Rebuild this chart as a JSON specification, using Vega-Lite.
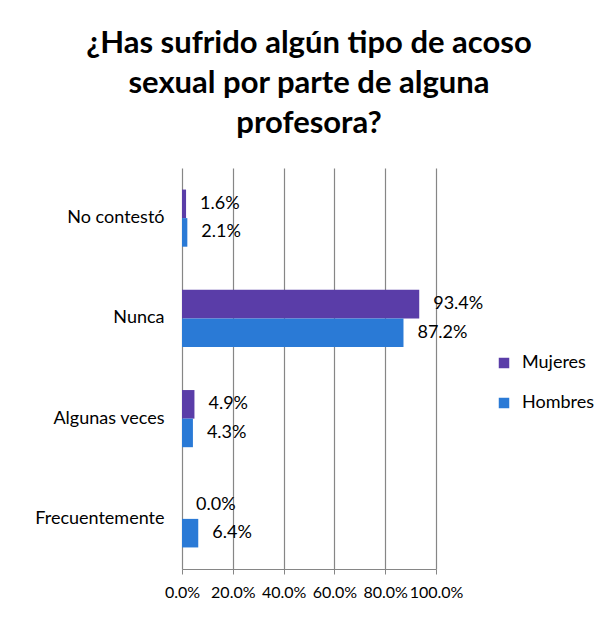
{
  "$schema": "https://vega.github.io/schema/vega-lite/v6.json",
  "autosize": {"type": "none"},
  "width": 254,
  "height": 401,
  "padding": {"left": 182, "top": 168, "right": 180, "bottom": 50},
  "background": "white",
  "title": {
    "text": ["¿Has sufrido algún tipo de acoso", "sexual por parte de alguna", "profesora?"],
    "font": "Lato",
    "fontSize": 31,
    "fontWeight": "bold",
    "color": "#000000",
    "lineHeight": 40,
    "anchor": "middle",
    "offset": 28
  },
  "data": {
    "values": [
      {"cat": "No contestó", "sexo": "Mujeres", "v": 0.016},
      {"cat": "No contestó", "sexo": "Hombres", "v": 0.021},
      {"cat": "Nunca", "sexo": "Mujeres", "v": 0.934},
      {"cat": "Nunca", "sexo": "Hombres", "v": 0.872},
      {"cat": "Algunas veces", "sexo": "Mujeres", "v": 0.049},
      {"cat": "Algunas veces", "sexo": "Hombres", "v": 0.043},
      {"cat": "Frecuentemente", "sexo": "Mujeres", "v": 0.0},
      {"cat": "Frecuentemente", "sexo": "Hombres", "v": 0.064}
    ]
  },
  "encoding": {
    "y": {
      "field": "cat", "type": "nominal", "title": null,
      "sort": ["No contestó", "Nunca", "Algunas veces", "Frecuentemente"],
      "scale": {"paddingInner": 0.43, "paddingOuter": 0.215},
      "axis": {"ticks": false, "domain": false, "labelFont": "Lato", "labelFontSize": 18, "labelColor": "#000000", "labelPadding": 18, "grid": false}
    },
    "yOffset": {"field": "sexo", "type": "nominal", "sort": ["Mujeres", "Hombres"], "scale": {"paddingInner": 0, "paddingOuter": 0}},
    "x": {
      "field": "v", "type": "quantitative", "title": null,
      "scale": {"domain": [0, 1], "nice": false},
      "axis": {"values": [0, 0.2, 0.4, 0.6, 0.8, 1], "format": ".1%", "labelFont": "Lato", "labelFontSize": 16, "labelColor": "#000000", "labelFlush": false, "grid": true, "gridColor": "#868686", "gridWidth": 1.2, "domainColor": "#868686", "tickColor": "#868686", "tickSize": 5, "labelPadding": 10, "labelOverlap": false}
    }
  },
  "layer": [
    {
      "mark": {"type": "bar", "stroke": null},
      "encoding": {
        "color": {
          "field": "sexo", "type": "nominal", "title": null,
          "sort": ["Mujeres", "Hombres"],
          "scale": {"domain": ["Mujeres", "Hombres"], "range": ["#5A3DA8", "#2A7AD6"]},
          "legend": {"orient": "none", "legendX": 313, "legendY": 186, "symbolType": "square", "symbolSize": 110, "symbolStrokeWidth": 0, "labelFont": "Lato", "labelFontSize": 18, "labelColor": "#000000", "rowPadding": 22, "labelOffset": 9}
        }
      }
    },
    {
      "mark": {"type": "text", "align": "left", "dx": 14, "font": "Lato", "fontSize": 18, "color": "#000000"},
      "encoding": {"text": {"field": "v", "type": "quantitative", "format": ".1%"}}
    }
  ],
  "config": {"view": {"stroke": null}}
}
